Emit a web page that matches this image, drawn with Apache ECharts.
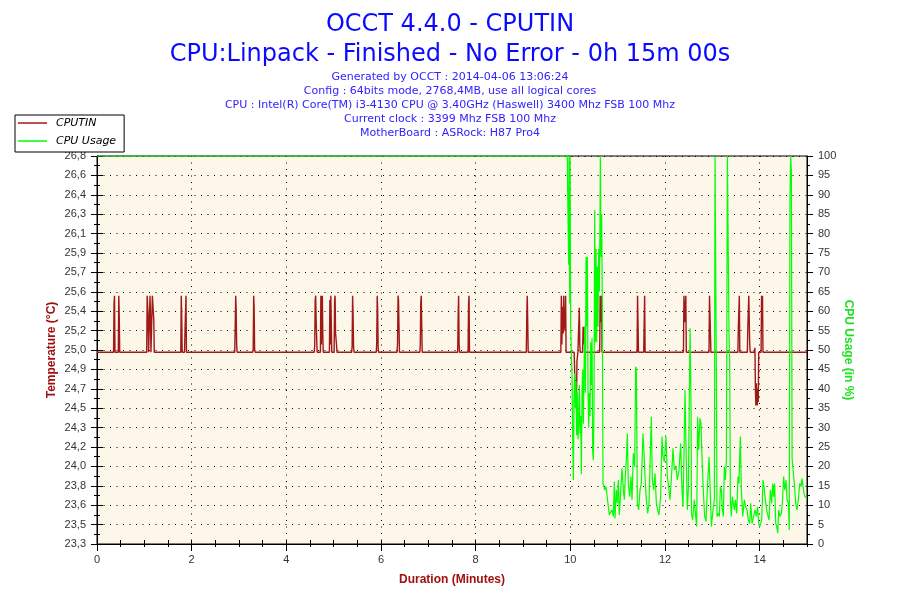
<!DOCTYPE html>
<html>
<head>
<meta charset="utf-8">
<script src="https://cdn.jsdelivr.net/npm/echarts@6.0.0/dist/echarts.min.js"></script>
<style>
html,body{margin:0;padding:0;background:#fff;}
#chart{width:900px;height:600px;}
</style>
</head>
<body>
<div id="chart"></div>
<script>
// ---- texts ----
const titleMain = 'OCCT 4.4.0 - CPUTIN';
const titleSub = 'CPU:Linpack - Finished - No Error - 0h 15m 00s';
const infoLines = [
  'Generated by OCCT : 2014-04-06 13:06:24',
  'Config : 64bits mode, 2768,4MB, use all logical cores',
  'CPU : Intel(R) Core(TM) i3-4130 CPU @ 3.40GHz (Haswell) 3400 Mhz FSB 100 Mhz',
  'Current clock : 3399 Mhz FSB 100 Mhz',
  'MotherBoard : ASRock: H87 Pro4'
];
const seriesNames = ['CPUTIN', 'CPU Usage'];

// ---- left axis tick values and labels ----
const tempTicks = [23.3, 23.475, 23.65, 23.825, 24.0, 24.175, 24.35, 24.525, 24.7, 24.875, 25.05,
  25.225, 25.4, 25.575, 25.75, 25.925, 26.1, 26.275, 26.45, 26.625, 26.8];
const tempTickLabels = ['23,3','23,5','23,6','23,8','24,0','24,2','24,3','24,5','24,7','24,9','25,0',
  '25,2','25,4','25,6','25,7','25,9','26,1','26,3','26,4','26,6','26,8'];

// ---- CPUTIN temperature [minute, °C] ----
const tempData = [
[0,25.03],[0.35,25.03],[0.36,25.47],[0.37,25.54],[0.38,25.03],[0.45,25.03],[0.46,25.54],[0.47,25.36],[0.48,25.03],
[1.05,25.03],[1.06,25.54],[1.08,25.36],[1.09,25.03],[1.11,25.03],[1.12,25.54],[1.13,25.34],[1.14,25.03],[1.16,25.03],[1.17,25.54],[1.20,25.32],[1.21,25.03],
[1.77,25.03],[1.78,25.54],[1.79,25.34],[1.80,25.03],[1.85,25.03],[1.86,25.24],[1.88,25.54],[1.89,25.03],
[2.91,25.03],[2.92,25.26],[2.93,25.54],[2.94,25.42],[2.95,25.1],[2.96,25.03],
[3.29,25.03],[3.30,25.06],[3.31,25.54],[3.32,25.43],[3.33,25.06],[3.34,25.03],
[4.59,25.03],[4.60,25.1],[4.61,25.5],[4.62,25.54],[4.63,25.32],[4.65,25.03],[4.72,25.03],[4.73,25.54],[4.74,25.1],[4.76,25.54],[4.77,25.2],[4.78,25.03],
[4.91,25.03],[4.92,25.5],[4.93,25.1],[4.94,25.54],[4.95,25.3],[4.96,25.03],[5.01,25.03],[5.02,25.5],[5.03,25.54],[5.04,25.2],[5.06,25.1],[5.07,25.03],
[5.38,25.03],[5.39,25.08],[5.40,25.54],[5.41,25.38],[5.42,25.08],[5.43,25.03],
[5.90,25.03],[5.91,25.12],[5.92,25.54],[5.93,25.4],[5.94,25.06],[5.95,25.03],
[6.34,25.03],[6.35,25.12],[6.36,25.54],[6.37,25.5],[6.39,25.03],
[6.82,25.03],[6.83,25.1],[6.84,25.47],[6.85,25.54],[6.86,25.28],[6.87,25.03],
[7.62,25.03],[7.63,25.36],[7.64,25.54],[7.65,25.1],[7.66,25.03],
[7.84,25.03],[7.85,25.47],[7.86,25.54],[7.87,25.03],
[9.07,25.03],[9.08,25.36],[9.09,25.54],[9.10,25.3],[9.11,25.03],
[9.80,25.03],[9.81,25.54],[9.82,25.1],[9.84,25.44],[9.85,25.2],[9.86,25.54],[9.87,25.3],[9.89,25.22],[9.90,25.54],[9.91,25.03],
[10.08,25.03],[10.09,24.9],[10.10,24.58],[10.12,24.78],[10.13,24.58],[10.14,24.95],[10.16,25.03],[10.18,25.03],[10.19,25.43],[10.20,25.1],[10.21,25.03],
[10.26,25.03],[10.27,25.26],[10.29,25.1],[10.30,25.26],[10.31,25.03],
[10.62,25.03],[10.63,25.54],[10.65,25.3],[10.66,25.54],[10.67,25.03],
[11.41,25.03],[11.42,25.54],[11.43,25.3],[11.44,25.03],[11.55,25.03],[11.56,25.3],[11.57,25.54],[11.58,25.03],
[12.39,25.03],[12.40,25.54],[12.42,25.3],[12.44,25.54],[12.45,25.03],
[12.93,25.03],[12.94,25.54],[12.96,25.54],[12.97,25.03],
[13.54,25.03],[13.55,25.26],[13.57,25.54],[13.58,25.03],
[13.74,25.03],[13.75,25.26],[13.77,25.54],[13.79,25.1],[13.80,25.03],
[13.89,25.03],[13.90,25.07],[13.91,24.7],[13.92,24.55],[13.93,24.75],[13.94,24.6],[13.95,24.55],[13.96,24.7],[13.97,24.58],[13.98,25.03],
[14.03,25.03],[14.04,25.54],[14.05,25.3],[14.06,25.54],[14.07,25.03],[15,25.03]
];

// ---- CPU usage [minute, %] ----
const cpuData = [
[0,100],[9.937,100],[9.944,90.6],[9.965,72],[9.972,100],[9.987,62],[9.994,100],[10.008,56],[10.022,49],[10.036,44],[10.050,27],[10.064,16.5],
[10.078,37],[10.092,44],[10.106,35],[10.120,42],[10.134,28],[10.148,39],[10.163,27],[10.177,31],[10.191,41],[10.205,28.5],[10.219,33],[10.233,18],
[10.247,39],[10.261,45],[10.275,31],[10.289,44],[10.303,56],[10.317,39],[10.332,74],[10.346,56],[10.360,74],[10.374,39],[10.388,30],[10.402,39],
[10.416,33],[10.430,52],[10.444,41],[10.458,53],[10.472,24],[10.486,21.6],[10.500,35],[10.515,86],[10.529,52],[10.543,76],[10.557,52],[10.571,71.5],
[10.585,56],[10.599,76],[10.613,65],[10.627,84],[10.634,100],[10.648,74],[10.662,85],[10.676,61],[10.690,15.6],
[10.726,13.9],[10.754,14.8],[10.782,11.8],[10.824,7.5],[10.852,7.9],[10.880,8.8],[10.909,7.1],[10.930,16.1],[10.944,6.6],[10.972,13.9],[10.993,10.5],
[11.014,16.5],[11.035,7.5],[11.063,7.2],[11.092,19.5],[11.120,13.9],[11.141,11.4],[11.162,17.4],[11.183,21.7],[11.204,28.5],[11.225,15.6],[11.254,12.2],
[11.282,17.4],[11.303,11.4],[11.331,23.4],[11.359,19.9],[11.380,45.7],[11.394,45],[11.416,10.5],[11.444,8.8],[11.472,13.9],[11.500,15.6],[11.535,28.5],
[11.556,23.8],[11.577,17.4],[11.606,11.4],[11.634,7.9],[11.662,10.5],[11.690,23.4],[11.711,32.8],[11.732,16.5],[11.761,13.9],[11.789,18.2],[11.817,10.5],
[11.845,8.8],[11.873,7.5],[11.908,12.2],[11.936,27.7],[11.958,22.5],[11.986,21.2],[12.021,27.7],[12.049,17.4],[12.077,14.8],[12.105,11.4],[12.141,18.2],
[12.169,24.7],[12.197,19.1],[12.232,19.9],[12.260,16.5],[12.296,19.1],[12.331,25.9],[12.359,13.9],[12.380,9.6],[12.401,22.5],[12.422,39.7],[12.444,25],
[12.472,8.8],[12.493,13.9],[12.530,55.6],[12.550,35.4],[12.560,7.9],[12.584,6.2],[12.620,11.4],[12.648,7.1],[12.669,4.5],[12.690,32.8],[12.711,24.2],
[12.739,32.4],[12.760,31.1],[12.781,22.5],[12.809,13.9],[12.838,7.1],[12.866,5.8],[12.894,13.9],[12.930,22.5],[12.952,14.8],[12.980,4.5],[13.001,7.1],
[13.022,9.6],[13.043,11.4],[13.057,100],[13.071,100],[13.085,44.8],[13.099,7.1],[13.128,7.9],[13.149,7.1],[13.170,14.8],[13.191,13.9],[13.212,8.8],
[13.233,7.1],[13.254,19.9],[13.275,16.5],[13.297,21.7],[13.318,100],[13.339,100],[13.353,53.4],[13.367,47.4],[13.381,11.4],[13.402,7.1],[13.423,12.2],
[13.444,10.5],[13.465,8.8],[13.487,11.4],[13.515,7.9],[13.543,17.4],[13.564,15.6],[13.578,22.5],[13.592,27.7],[13.613,13.9],[13.642,7.1],[13.677,11.4],
[13.705,9.6],[13.733,8.8],[13.761,6.2],[13.789,5.3],[13.811,10.5],[13.839,5.3],[13.867,5.3],[13.902,8.8],[13.930,7.1],[13.958,9.6],[13.979,5.3],
[14.001,4.5],[14.022,5.3],[14.043,6.2],[14.071,16.5],[14.092,14.8],[14.120,11.4],[14.148,8.8],[14.177,7.1],[14.198,6.2],[14.226,13.9],[14.254,10.5],
[14.275,15.6],[14.296,12.2],[14.317,15.6],[14.339,5.3],[14.360,4.5],[14.381,2.8],[14.402,8.8],[14.430,7.1],[14.458,7.9],[14.479,10.5],[14.507,17.4],
[14.529,13.9],[14.557,16.5],[14.578,11.4],[14.606,10.5],[14.625,3.6],[14.640,88.7],[14.655,100],[14.670,96],[14.685,22],[14.712,21.7],[14.733,15.6],
[14.761,10.5],[14.789,8.8],[14.817,11.4],[14.846,15.6],[14.874,14.8],[14.895,16.9],[14.916,14.8],[14.937,13.1],[14.958,12.2],[15,11.8]
];

const RED = '#a01818';
const GREEN = '#00ff00';
const labelFont = 'Liberation Sans, Arial, sans-serif';

function tempLabel(v) {
  for (let i = 0; i < tempTicks.length; i++) {
    if (Math.abs(tempTicks[i] - v) < 1e-6) return tempTickLabels[i];
  }
  return '';
}

function tickAxis(position, inside, len, minorLen) {
  return {
    type: 'value', min: 0, max: 100, interval: 5, position: position,
    axisLine: { show: false },
    axisTick: { show: true, inside: inside, length: len, lineStyle: { color: '#000' } },
    minorTick: { show: true, splitNumber: 2, length: minorLen, lineStyle: { color: '#000' } },
    axisLabel: { show: false },
    splitLine: { show: false }
  };
}

const titles = [
  { text: titleMain, left: 'center', top: 8,
    textStyle: { fontFamily: 'DejaVu Sans', fontSize: 24, fontWeight: 'normal', color: '#0a0aff' } },
  { text: titleSub, left: 'center', top: 38,
    textStyle: { fontFamily: 'DejaVu Sans', fontSize: 24, fontWeight: 'normal', color: '#0a0aff' } }
];
infoLines.forEach(function (line, i) {
  titles.push({ text: line, left: 'center', top: 71 + i * 13.8, padding: 0,
    textStyle: { fontFamily: 'DejaVu Sans', fontSize: 11, fontWeight: 'normal', color: '#3322ff', lineHeight: 13 } });
});

const chart = echarts.init(document.getElementById('chart'), null, { renderer: 'canvas' });
chart.setOption({
  animation: false,
  backgroundColor: '#ffffff',
  title: titles,
  legend: {
    orient: 'vertical', left: 15, top: 115,
    padding: [2, 8, 5, 3], itemGap: 6, itemWidth: 29, itemHeight: 1.5, icon: 'rect',
    backgroundColor: '#ffffff', borderColor: '#000', borderWidth: 1, borderRadius: 0,
    textStyle: { fontFamily: 'DejaVu Sans', fontStyle: 'italic', fontSize: 11, color: '#000', lineHeight: 12, padding: [0, 0, 0, 4] },
    data: seriesNames
  },
  grid: {
    left: 97, right: 93, top: 156, bottom: 56,
    show: true, backgroundColor: '#fdf7ea', borderColor: '#000', borderWidth: 1
  },
  xAxis: [
    { type: 'value', min: 0, max: 15, interval: 2, position: 'bottom',
      axisLine: { show: true, onZero: false, lineStyle: { color: '#000' } },
      axisTick: { show: true, length: 7, lineStyle: { color: '#000' } },
      axisLabel: { showMaxLabel: false, color: '#333', fontSize: 11, fontFamily: labelFont, margin: 10 },
      splitLine: { show: true, lineStyle: { color: '#000', type: [1, 5.5] } },
      name: 'Duration (Minutes)', nameLocation: 'middle', nameGap: 30, nameMoveOverlap: false,
      nameTextStyle: { color: '#a01010', fontWeight: 'bold', fontSize: 12, fontFamily: labelFont } },
    { type: 'value', min: 0, max: 15, interval: 0.5, position: 'bottom',
      axisLine: { show: false, onZero: false }, axisTick: { show: true, inside: true, length: 4, lineStyle: { color: '#000' } },
      axisLabel: { show: false }, splitLine: { show: false } },
    { type: 'value', min: 0, max: 15, interval: 0.5, position: 'bottom',
      axisLine: { show: false, onZero: false }, axisTick: { show: true, inside: false, length: 3, lineStyle: { color: '#000' } },
      axisLabel: { show: false }, splitLine: { show: false } }
  ],
  yAxis: [
    { type: 'value', min: 23.3, max: 26.8, position: 'left',
      axisLine: { show: true, onZero: false, lineStyle: { color: '#000' } },
      axisTick: { show: false },
      axisLabel: { customValues: tempTicks, formatter: tempLabel, color: '#333', fontSize: 11, fontFamily: labelFont, margin: 11 },
      splitLine: { show: false },
      name: 'Temperature (°C)', nameLocation: 'middle', nameGap: 39, nameRotate: 90, nameMoveOverlap: false,
      nameTextStyle: { color: '#a01010', fontWeight: 'bold', fontSize: 12, fontFamily: labelFont } },
    { type: 'value', min: 0, max: 100, interval: 5, position: 'right',
      axisLine: { show: true, onZero: false, lineStyle: { color: '#000' } },
      axisTick: { show: true, length: 6, lineStyle: { color: '#000' } },
      minorTick: { show: true, splitNumber: 2, length: 3, lineStyle: { color: '#000' } },
      axisLabel: { color: '#333', fontSize: 11, fontFamily: labelFont, margin: 11 },
      splitLine: { show: true, lineStyle: { color: '#000', type: [1, 5.5] } },
      name: 'CPU Usage (in %)', nameLocation: 'middle', nameGap: 35, nameRotate: -90, nameMoveOverlap: false,
      nameTextStyle: { color: '#22e022', fontWeight: 'bold', fontSize: 12, fontFamily: labelFont } },
    tickAxis('left', false, 6, 3),
    tickAxis('left', true, 6, 3),
    tickAxis('right', true, 6, 3)
  ],
  series: [
    { name: seriesNames[0], type: 'line', xAxisIndex: 0, yAxisIndex: 0, data: tempData,
      symbol: 'none', lineStyle: { color: RED, width: 1.4 }, itemStyle: { color: RED }, z: 2 },
    { name: seriesNames[1], type: 'line', xAxisIndex: 0, yAxisIndex: 1, data: cpuData,
      symbol: 'none', lineStyle: { color: GREEN, width: 1.2 }, itemStyle: { color: GREEN }, z: 3 }
  ]
});
</script>
</body>
</html>
